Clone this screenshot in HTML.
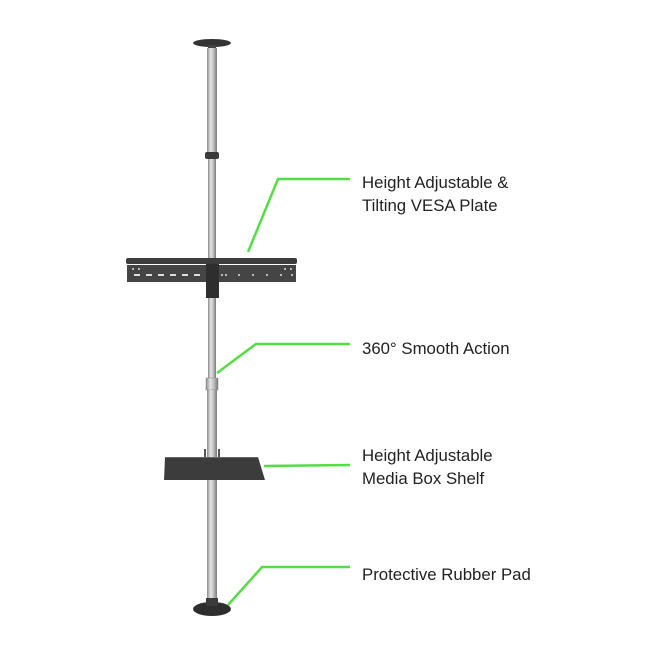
<!DOCTYPE html>
<html><head><style>
html,body{margin:0;padding:0;background:#fff;}
svg{display:block;}
text{font-family:"Liberation Sans",sans-serif;font-size:16.8px;fill:#222;}
</style></head><body>
<svg width="662" height="662" viewBox="0 0 662 662" xmlns="http://www.w3.org/2000/svg">
<defs>
<linearGradient id="pole" x1="0" x2="1" y1="0" y2="0">
<stop offset="0" stop-color="#8a8a8a"/><stop offset="0.35" stop-color="#e4e4e4"/><stop offset="0.6" stop-color="#c8c8c8"/><stop offset="1" stop-color="#7a7a7a"/>
</linearGradient>
</defs>
<ellipse cx="212" cy="43" rx="19" ry="4" fill="#333"/>
<rect x="208" y="45" width="8" height="4" fill="#444"/>
<rect x="207" y="48" width="10" height="106" fill="url(#pole)"/>
<rect x="205" y="152" width="14" height="7" rx="2" fill="#3a3a3a"/>
<rect x="208" y="159" width="8" height="100" fill="url(#pole)"/>
<rect x="126" y="258" width="171" height="6" rx="2" fill="#3c3c3c"/>
<rect x="127" y="265" width="169" height="17" fill="#454545"/>
<g fill="#ddd">
<rect x="134" y="274" width="6" height="2"/><rect x="146" y="274" width="6" height="2"/><rect x="158" y="274" width="6" height="2"/><rect x="170" y="274" width="6" height="2"/><rect x="182" y="274" width="6" height="2"/><rect x="194" y="274" width="6" height="2"/>
<circle cx="222" cy="275" r="1"/><circle cx="226" cy="275" r="1"/><circle cx="239" cy="275" r="1"/><circle cx="253" cy="275" r="1"/><circle cx="267" cy="275" r="1"/><circle cx="281" cy="275" r="1"/><circle cx="292" cy="275" r="1"/>
<circle cx="133" cy="269" r="1"/><circle cx="139" cy="269" r="1"/><circle cx="285" cy="269" r="1"/><circle cx="291" cy="269" r="1"/>
</g>
<rect x="206" y="264" width="13" height="34" fill="#2e2e2e"/>
<rect x="208" y="298" width="8" height="80" fill="url(#pole)"/>
<rect x="206" y="378" width="12" height="12" fill="url(#pole)" stroke="#888" stroke-width="0.5"/>
<rect x="207" y="390" width="10" height="67" fill="url(#pole)"/>
<rect x="204" y="449" width="2" height="8" fill="#555"/>
<rect x="218" y="449" width="2" height="8" fill="#555"/>
<polygon points="165,457 258,457 265,480 164,480" fill="#3c3c3c"/>
<line x1="165" y1="457.5" x2="258" y2="457.5" stroke="#666" stroke-width="1"/>
<rect x="207" y="480" width="10" height="122" fill="url(#pole)"/>
<ellipse cx="212" cy="609" rx="19" ry="7" fill="#2e2e2e"/>
<rect x="206" y="598" width="12" height="8" fill="#3a3a3a"/>
<g stroke="#55dd44" stroke-width="2.5" fill="none">
<polyline points="248,252 278,179 350,179"/>
<polyline points="217,373 256,344 350,344"/>
<polyline points="264,466 350,465"/>
<polyline points="228,605 262,567 350,567"/>
</g>
<text x="362" y="188">Height Adjustable &amp;</text>
<text x="362" y="211">Tilting VESA Plate</text>
<text x="362" y="354">360° Smooth Action</text>
<text x="362" y="461">Height Adjustable</text>
<text x="362" y="484">Media Box Shelf</text>
<text x="362" y="580">Protective Rubber Pad</text>
</svg>
</body></html>
